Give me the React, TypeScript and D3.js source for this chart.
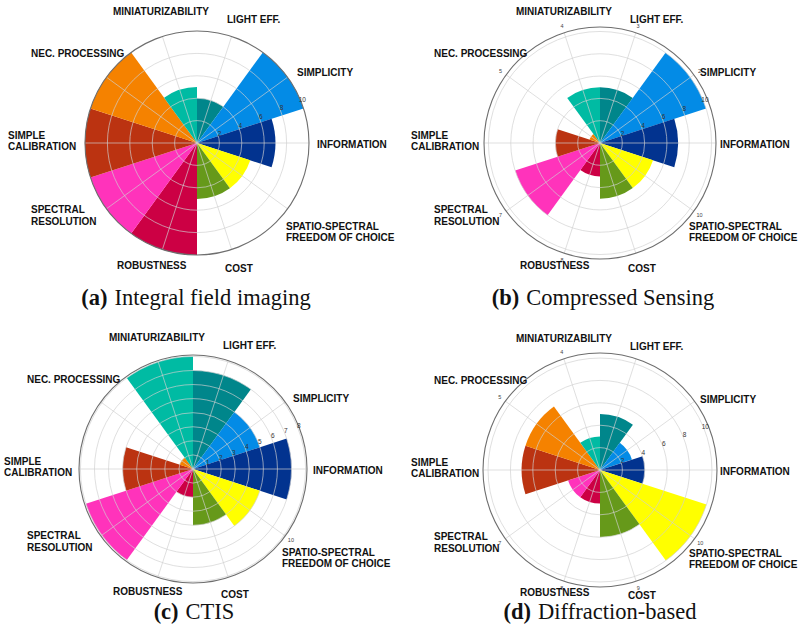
import React from 'react';
import * as d3 from 'd3';

// Criteria, clockwise from twelve o'clock
const categories: string[][] = [
  ['LIGHT EFF.'],
  ['SIMPLICITY'],
  ['INFORMATION'],
  ['SPATIO-SPECTRAL', 'FREEDOM OF CHOICE'],
  ['COST'],
  ['ROBUSTNESS'],
  ['SPECTRAL', 'RESOLUTION'],
  ['SIMPLE', 'CALIBRATION'],
  ['NEC. PROCESSING'],
  ['MINIATURIZABILITY'],
];

const categoryColors = [
  '#00868b', '#038be6', '#02338f', '#ffff00', '#66991a',
  '#cc0044', '#ff33bb', '#bb3311', '#f58200', '#00bba3',
];

// Scores per technique
const integralFieldValues = [4, 10, 7, 5, 5, 10, 10, 10, 10, 5];
const compressedSensingValues = [5, 10, 7, 5, 5, 3, 8, 4, 1, 5];
const ctisValues = [7, 5, 7, 5, 4, 2, 8, 5, 1, 8];
const diffractionValues = [5, 3, 4, 10, 6, 3, 3, 7, 7, 3];

// Radial tick labels
const ticksEven = [2, 4, 6, 8, 10];
const ticksUnit = [1, 2, 3, 4, 5, 6, 7, 8];

// Small angular tick numbers left uncovered around each rim
const rimNumbersA: number[] = [];
const rimNumbersB = [2, 3, 4, 5, 7, 8, 10];
const rimNumbersC = [10];
const rimNumbersD = [4, 5, 7, 8, 9, 10];

const captionLetters = ['(a)', '(b)', '(c)', '(d)'];
const captionTitles = ['Integral field imaging', 'Compressed Sensing', 'CTIS', 'Diffraction-based'];

// Text placement of the criteria around a rose (offsets from its centre)
const labelLayout = [
  { x: 30, y: [-120] },
  { x: 100, y: [-67] },
  { x: 120, y: [5] },
  { x: 89, y: [86.5, 98] },
  { x: 28, y: [129] },
  { x: -80, y: [125.5] },
  { x: -166, y: [70, 81.5] },
  { x: -189, y: [-4.5, 6.5] },
  { x: -166, y: [-86] },
  { x: -84, y: [-128] },
];

interface PanelSpec {
  cx: number;
  cy: number;
  radius: number;
  rMax: number;
  values: number[];
  ticks: number[];
  rim: number[];
  captionX: number;
  captionY: number;
  idx: number;
}

const panels: PanelSpec[] = [
  { cx: 197, cy: 143, radius: 112, rMax: 10, values: integralFieldValues, ticks: ticksEven, rim: rimNumbersA, captionX: 196, captionY: 305, idx: 0 },
  { cx: 600, cy: 143, radius: 116, rMax: 10.4, values: compressedSensingValues, ticks: ticksEven, rim: rimNumbersB, captionX: 603, captionY: 305, idx: 1 },
  { cx: 193, cy: 469, radius: 114, rMax: 8.1, values: ctisValues, ticks: ticksUnit, rim: rimNumbersC, captionX: 194, captionY: 619, idx: 2 },
  { cx: 600, cy: 470, radius: 117, rMax: 10.45, values: diffractionValues, ticks: ticksEven, rim: rimNumbersD, captionX: 600, captionY: 619, idx: 3 },
];

const deg = Math.PI / 180;
const n = categories.length;
const step = 360 / n;

function polar(angleDeg: number, r: number): [number, number] {
  const a = angleDeg * deg;
  return [r * Math.sin(a), -r * Math.cos(a)];
}

function Rose({ p }: { p: PanelSpec }) {
  const r = d3.scaleLinear().domain([0, p.rMax]).range([0, p.radius]);
  const arc = d3.arc<number>()
    .innerRadius(0)
    .outerRadius((v) => r(v))
    .startAngle((_, i) => i * step * deg)
    .endAngle((_, i) => (i + 1) * step * deg);
  const spokes = d3.range(n).map((k) => step / 2 + k * step);
  const labelAngle = 67.5;

  return (
    <g transform={`translate(${p.cx},${p.cy})`}>
      {p.values.map((v, i) => (
        <path key={`bar${i}`} d={arc(v, i) || ''} fill={categoryColors[i]} />
      ))}
      {p.ticks.filter((t) => t < p.rMax - 0.01).map((t) => (
        <circle key={`ring${t}`} r={r(t)} fill="none" stroke="#cfcfcf" strokeOpacity={0.85} strokeWidth={0.8} />
      ))}
      {spokes.map((a) => {
        const [x, y] = polar(a, p.radius);
        return <line key={`sp${a}`} x1={0} y1={0} x2={x} y2={y} stroke="#cfcfcf" strokeOpacity={0.85} strokeWidth={0.8} />;
      })}
      <circle r={p.radius} fill="none" stroke="#6e6e6e" strokeWidth={1.1} />
      {p.ticks.map((t) => {
        const [x, y] = polar(labelAngle, r(t) + 2);
        return (
          <text key={`tl${t}`} x={x} y={y} fontSize={6.5} fill="#333" textAnchor="middle" dominantBaseline="central"
            fontFamily="Liberation Sans, Arial, sans-serif">{t}</text>
        );
      })}
      {p.rim.map((num) => {
        const a = 90 - (num - 1) * step;
        const [x, y] = polar(a, p.radius + 7);
        return (
          <text key={`rim${num}`} x={x} y={y} fontSize={5.5} fill="#444" textAnchor="middle" dominantBaseline="central"
            fontFamily="Liberation Sans, Arial, sans-serif">{num}</text>
        );
      })}
      {categories.map((lines, i) => (
        <text key={`lab${i}`} fontSize={10} fontWeight="bold" fill="#111"
          fontFamily="Liberation Sans, Arial, sans-serif">
          {lines.map((ln, j) => (
            <tspan key={j} x={labelLayout[i].x} y={labelLayout[i].y[j]}>{ln}</tspan>
          ))}
        </text>
      ))}
    </g>
  );
}

export default function App() {
  return (
    <svg width={803} height={635} viewBox="0 0 803 635"
      style={{ position: 'absolute', left: 0, top: 0, background: '#fff' }}>
      <rect width={803} height={635} fill="#fff" />
      {panels.map((p) => (
        <g key={p.idx}>
          <Rose p={p} />
          <text x={p.captionX} y={p.captionY} textAnchor="middle" fontSize={22.5} fill="#111"
            fontFamily="Liberation Serif, 'Times New Roman', serif">
            <tspan fontWeight="bold">{captionLetters[p.idx]}</tspan>
            <tspan dx={7}>{captionTitles[p.idx]}</tspan>
          </text>
        </g>
      ))}
    </svg>
  );
}
